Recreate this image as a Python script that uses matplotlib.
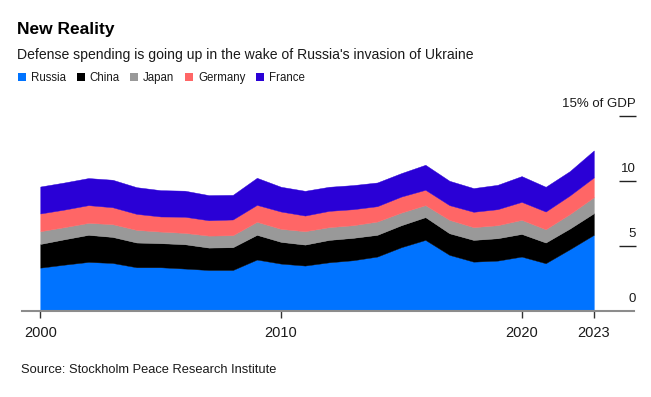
import matplotlib
matplotlib.use("Agg")
import matplotlib.pyplot as plt
from matplotlib.patches import Patch
from matplotlib.transforms import offset_copy

plt.rcParams['font.family'] = ['Liberation Sans', 'DejaVu Sans']

years = list(range(2000, 2024))
russia = [3.33, 3.56, 3.77, 3.69, 3.36, 3.36, 3.26, 3.15, 3.15, 3.95, 3.64, 3.49,
          3.74, 3.90, 4.18, 4.90, 5.46, 4.31, 3.79, 3.87, 4.18, 3.67, 4.74, 5.85]
china = [1.82, 1.95, 2.08, 2.00, 1.90, 1.85, 1.87, 1.72, 1.75, 1.90, 1.67, 1.61,
         1.72, 1.72, 1.67, 1.69, 1.75, 1.66, 1.67, 1.72, 1.74, 1.59, 1.59, 1.66]
japan = [0.98, 0.93, 0.92, 0.98, 0.97, 0.89, 0.87, 0.92, 0.92, 1.00, 1.00, 1.03,
         0.98, 0.97, 1.02, 0.97, 0.92, 1.03, 0.98, 1.00, 1.08, 1.02, 1.11, 1.23]
germany = [1.36, 1.35, 1.36, 1.30, 1.23, 1.16, 1.24, 1.18, 1.21, 1.30, 1.33, 1.20,
           1.25, 1.23, 1.18, 1.23, 1.18, 1.13, 1.18, 1.23, 1.38, 1.36, 1.43, 1.52]
france = [2.07, 2.08, 2.08, 2.11, 2.05, 2.02, 2.00, 1.93, 1.89, 2.08, 1.90, 1.90,
          1.85, 1.85, 1.82, 1.80, 1.92, 1.87, 1.82, 1.87, 1.98, 1.90, 1.87, 2.07]

countries = ['Russia', 'China', 'Japan', 'Germany', 'France']
colors = ['#0073ff', '#000000', '#999999', '#ff6666', '#2a00d6']

xtick_values = [2000, 2010, 2020, 2023]
xtick_labels = ['2000', '2010', '2020', '2023']
ytick_values = [0, 5, 10, 15]
ytick_labels = ['0', '5', '10', '15% of GDP']

W, H = 651, 397
fig = plt.figure(figsize=(W / 100, H / 100), dpi=100)

def fx(px):
    return px / W

def fy(px):
    return 1 - px / H

ax = fig.add_axes([fx(22), fy(311), (634 - 22) / W, (311 - 115.7) / H])
ax.stackplot(years, russia, china, japan, germany, france, colors=colors,
             linewidth=0.3, edgecolor='face')
ax.set_xlim(1999.24, 2024.67)
ax.set_ylim(0, 15)

for s in ['top', 'left', 'right']:
    ax.spines[s].set_visible(False)
ax.spines['bottom'].set_color('#8c8c8c')
ax.spines['bottom'].set_linewidth(1.5)
ax.spines['bottom'].set_zorder(5)

ax.set_xticks(xtick_values)
ax.set_xticklabels(xtick_labels)
ax.tick_params(axis='x', direction='out', length=5, width=1, color='#333333',
               labelsize=10.5, pad=5.5, labelcolor='#1a1a1a')
ax.set_yticks([])

ytrans = offset_copy(ax.get_yaxis_transform(), fig=fig, x=0, y=9, units='dots')
for v, lab in zip(ytick_values, ytick_labels):
    ax.text(1.0028, v, lab, transform=ytrans, ha='right', va='baseline',
            fontsize=9.5, color='#1a1a1a', clip_on=False)
ax.hlines(ytick_values[1:], 0.975, 1.003, transform=ax.get_yaxis_transform(),
          color='#222222', lw=1, clip_on=False)

fig.text(fx(17), fy(34), 'New Reality', fontsize=12.5, fontweight='bold',
         va='baseline', color='#000000')
fig.text(fx(17), fy(59.3), "Defense spending is going up in the wake of Russia's invasion of Ukraine",
         fontsize=10.1, va='baseline', color='#1a1a1a')
fig.text(fx(21), fy(372.7), 'Source: Stockholm Peace Research Institute',
         fontsize=9.3, va='baseline', color='#1a1a1a')

handles = [Patch(facecolor=c, edgecolor='none') for c in colors]
fig.legend(handles, countries, loc='center left', bbox_to_anchor=(fx(18), fy(78)),
           ncol=5, frameon=False, fontsize=8.3, handlelength=0.7, handleheight=0.7,
           handletextpad=0.4, columnspacing=0.95, borderpad=0, borderaxespad=0,
           labelcolor='#1a1a1a')

fig.savefig('out.png', dpi=100)
